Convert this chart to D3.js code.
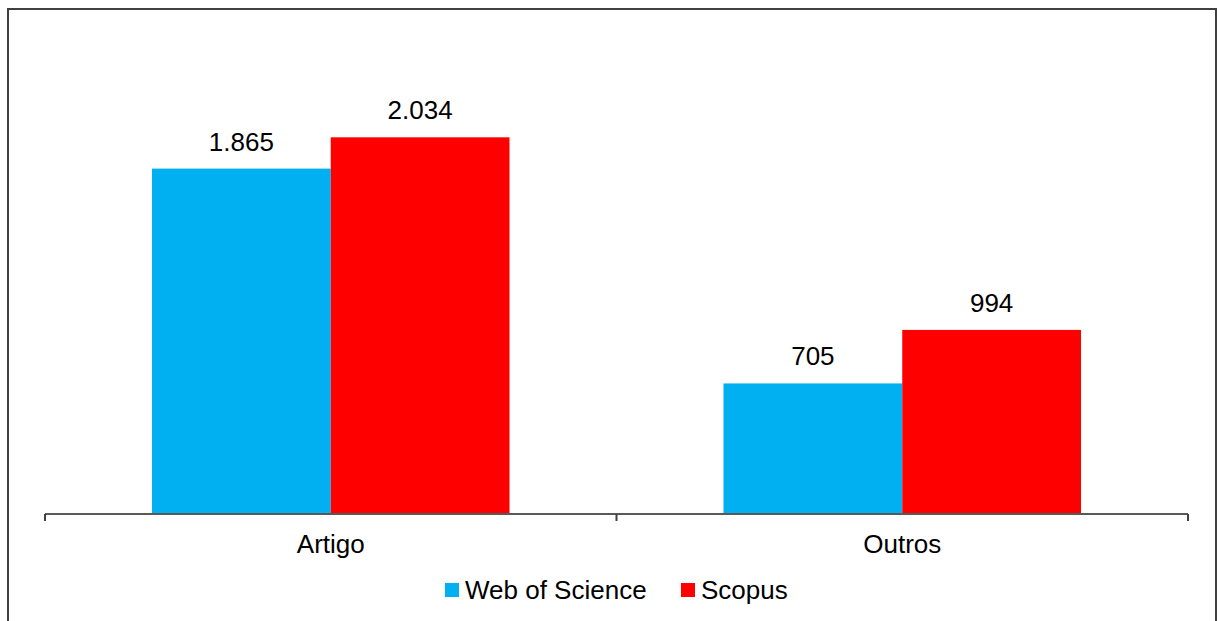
<!DOCTYPE html>
<html>
<head>
<meta charset="utf-8">
<script src="https://cdn.jsdelivr.net/npm/d3@7"></script>
<style>
  body { margin: 0; background: #fff; }
  text { font-family: "Liberation Sans", Arial, sans-serif; fill: #000; }
</style>
</head>
<body>
<svg width="1218" height="621"></svg>
<script>
var categories = ["Artigo", "Outros"];
var seriesNames = ["Web of Science", "Scopus"];
var wosValues = [1865, 705];
var scopusValues = [2034, 994];
var labelFormat = ["1.865", "705", "2.034", "994"];

var color = {
  "Web of Science": "#00B0F0",
  "Scopus": "#FF0000"
};

var svg = d3.select("svg"),
    margin = {top: 51, left: 45, right: 30, bottom: 107},
    width = 1188 - margin.left,
    height = 514 - margin.top;

// outer frame
svg.append("rect")
    .attr("x", 8).attr("y", 9)
    .attr("width", 1208).attr("height", 640)
    .attr("fill", "none")
    .attr("stroke", "#404040")
    .attr("stroke-width", 2);

var g = svg.append("g").attr("transform", "translate(" + margin.left + "," + margin.top + ")");

var x0 = d3.scaleBand().domain(categories).range([0, width]).paddingInner(0).paddingOuter(0);
var x1 = d3.scaleBand().domain(seriesNames).range([107, x0.bandwidth() - 107]);
var y = d3.scaleLinear().domain([0, 2500]).range([height, 0]);

var data = categories.map(function(c, i) {
  return {
    cat: c,
    values: [
      {name: "Web of Science", value: wosValues[i], label: labelFormat[i]},
      {name: "Scopus", value: scopusValues[i], label: labelFormat[i + 2]}
    ]
  };
});

var group = g.selectAll(".group")
  .data(data)
  .enter().append("g")
    .attr("class", "group")
    .attr("transform", function(d) { return "translate(" + x0(d.cat) + ",0)"; });

group.selectAll("rect")
  .data(function(d) { return d.values; })
  .enter().append("rect")
    .attr("x", function(d) { return x1(d.name); })
    .attr("y", function(d) { return y(d.value); })
    .attr("width", x1.bandwidth())
    .attr("height", function(d) { return height - y(d.value); })
    .attr("fill", function(d) { return color[d.name]; });

group.selectAll(".lbl")
  .data(function(d) { return d.values; })
  .enter().append("text")
    .attr("class", "lbl")
    .attr("x", function(d) { return x1(d.name) + x1.bandwidth() / 2; })
    .attr("y", function(d) { return y(d.value) - 18; })
    .attr("text-anchor", "middle")
    .style("font-size", "26px")
    .text(function(d) { return d.label; });

// x axis
var xAxis = g.append("g")
    .attr("transform", "translate(0," + height + ")")
    .call(d3.axisBottom(x0).tickSize(0).tickPadding(21));
xAxis.select(".domain").attr("stroke", "#595959").attr("stroke-width", 2).attr("d", "M0,0H" + width);
xAxis.selectAll("text").style("font-size", "26px").attr("font-family", null);

xAxis.selectAll(".sep")
  .data(d3.range(categories.length + 1))
  .enter().append("line")
    .attr("class", "sep")
    .attr("x1", function(i) { return i * x0.bandwidth(); })
    .attr("x2", function(i) { return i * x0.bandwidth(); })
    .attr("y1", 0).attr("y2", 7)
    .attr("stroke", "#404040")
    .attr("stroke-width", 2);

// legend
var legendX = [445, 681];
var legend = svg.selectAll(".legend")
  .data(seriesNames)
  .enter().append("g")
    .attr("class", "legend")
    .attr("transform", function(d, i) { return "translate(" + legendX[i] + ",583)"; });

legend.append("rect")
    .attr("width", 14).attr("height", 14)
    .attr("fill", function(d) { return color[d]; });

legend.append("text")
    .attr("x", 20).attr("y", 16)
    .style("font-size", "26px")
    .text(function(d) { return d; });
</script>
</body>
</html>
